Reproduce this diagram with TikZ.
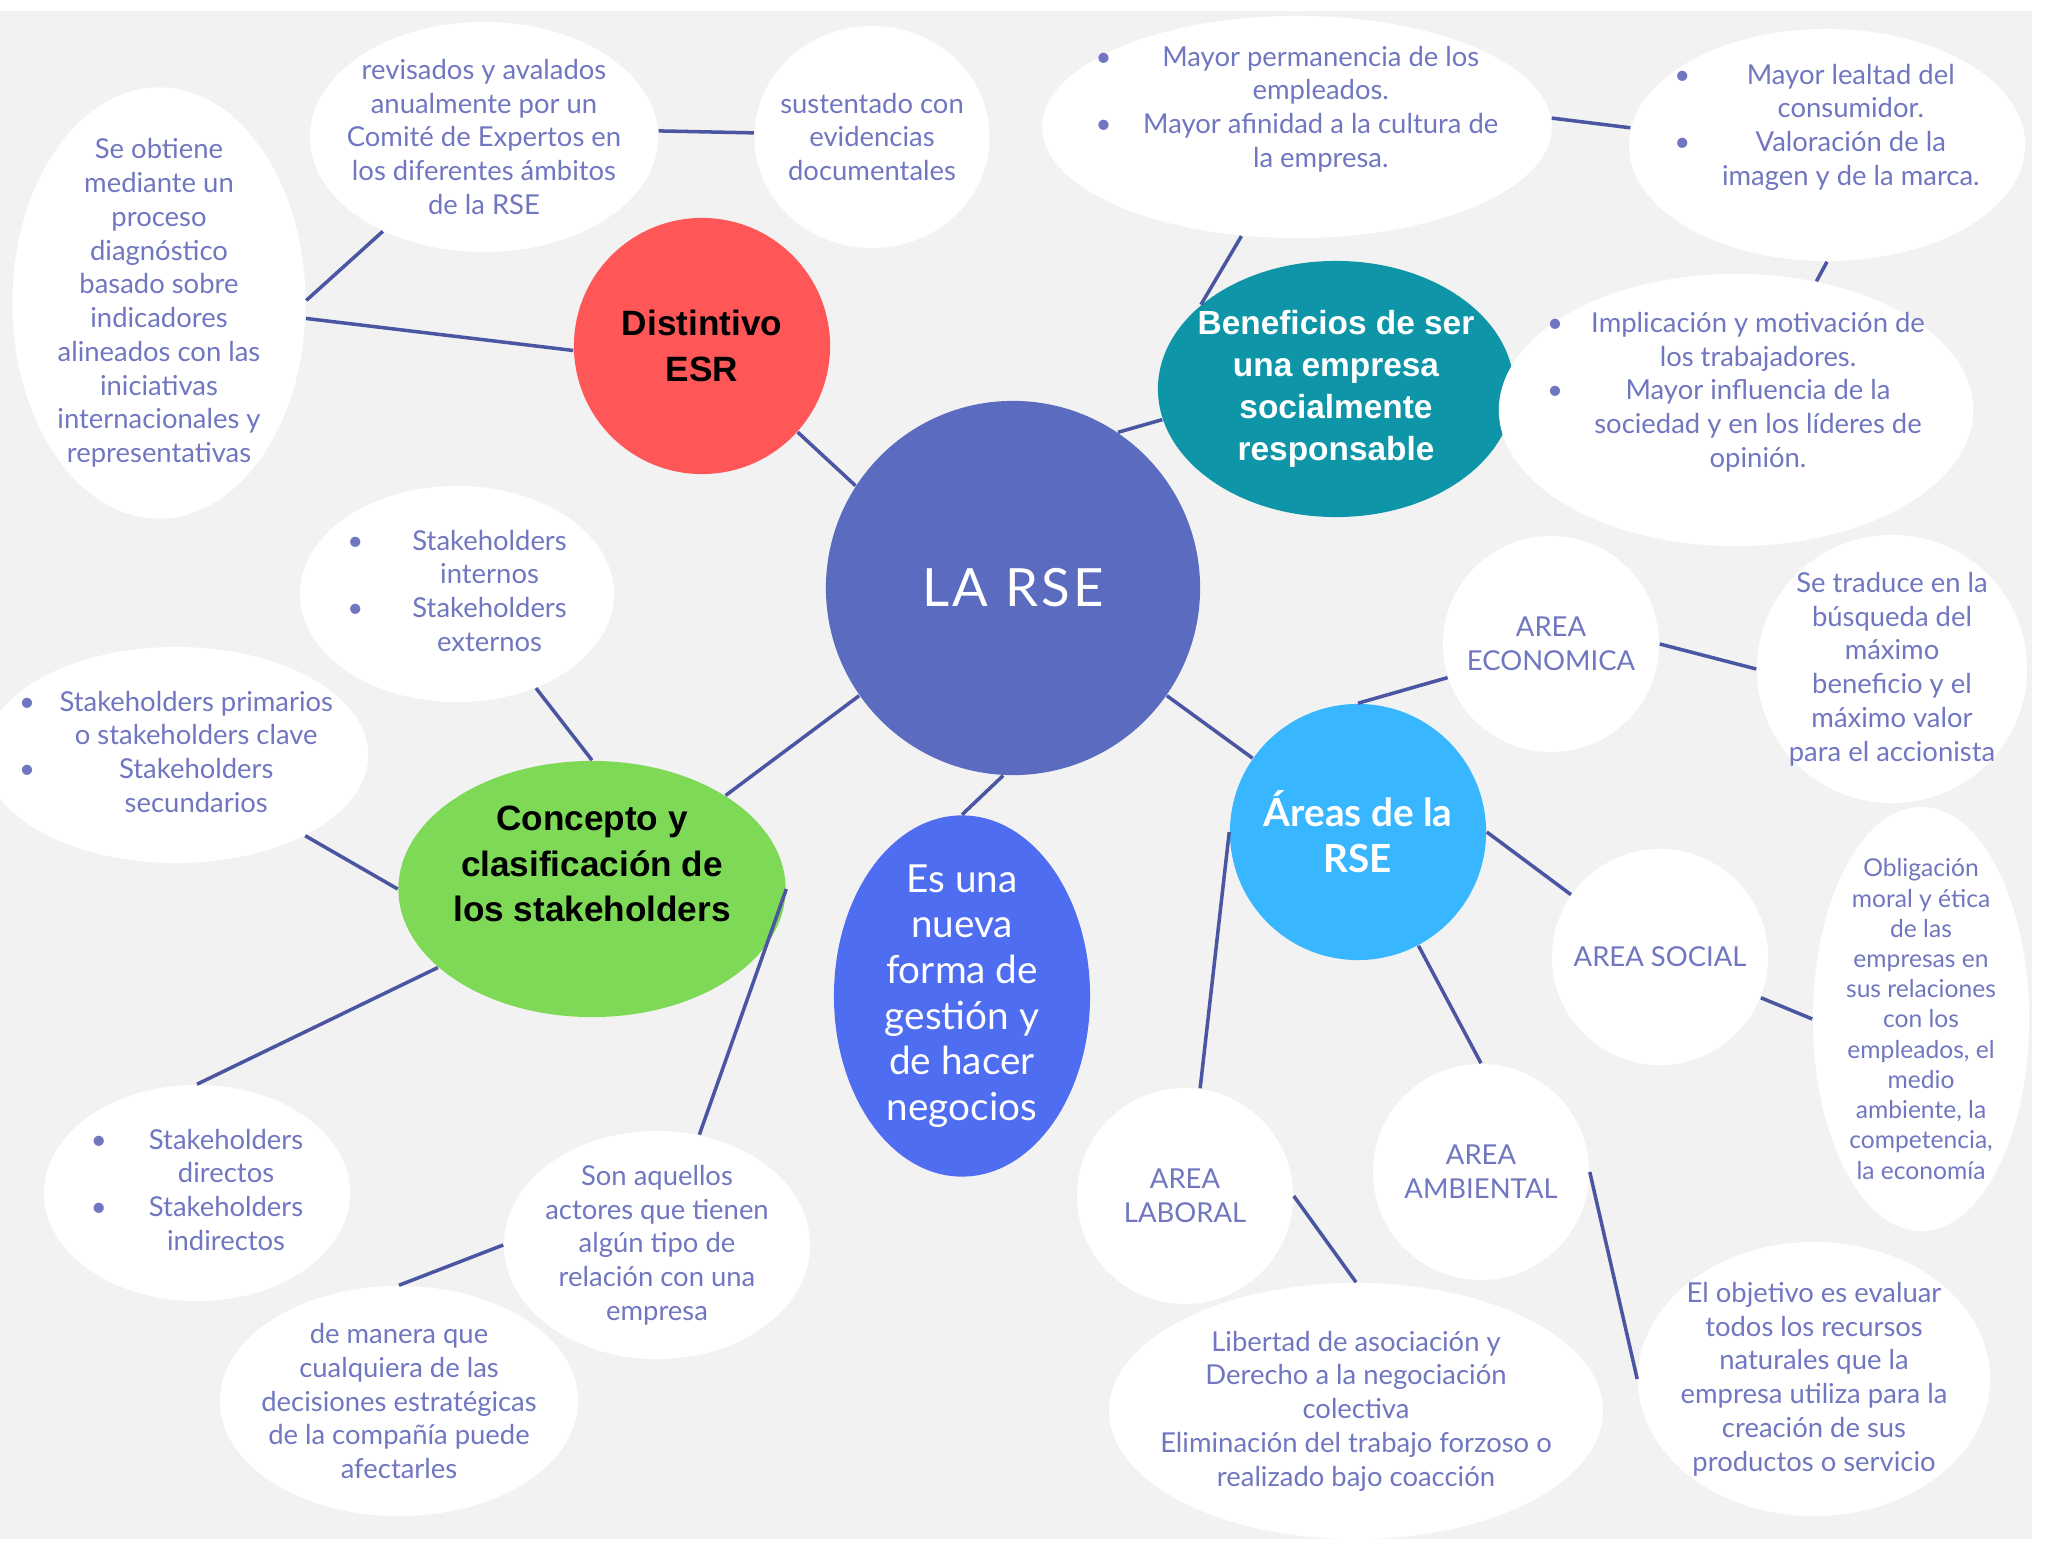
\documentclass[tikz,border=0pt]{standalone}
\usepackage{fontspec}
\usetikzlibrary{shapes.geometric}
\newfontfamily\bodyfont{Lato}
\newfontfamily\headfont{Liberation Sans}
\definecolor{bgcol}{HTML}{F2F2F2}
\definecolor{rsecol}{HTML}{5A6BC0}
\definecolor{esrcol}{HTML}{FF5757}
\definecolor{bencol}{HTML}{0E96A8}
\definecolor{stkcol}{HTML}{7ED957}
\definecolor{newcol}{HTML}{4F6DF0}
\definecolor{areacol}{HTML}{38B6FF}
\definecolor{txtcol}{HTML}{7077C0}
\definecolor{linkcol}{HTML}{4B56A3}
% bullet list: gap, rows
\newcommand{\bl}[2]{\begin{tabular}{@{}l@{\hspace{#1}}c@{}}#2\end{tabular}}

\tikzset{
  bubble/.style={ellipse, fill=white, inner xsep=-6pt, inner ysep=-4pt, align=center,
    text=txtcol, font=\bodyfont\fontsize{7.8}{9.6}\selectfont},
  hub/.style={ellipse, inner xsep=-8pt, inner ysep=-6pt, align=center,
    font=\headfont\bfseries\fontsize{10}{13}\selectfont},
  dims/.style 2 args={minimum width=#1cm, minimum height=#2cm},
  link/.style={draw=linkcol, line width=1pt},
}

\begin{document}
\begin{tikzpicture}[x=0.01cm, y=-0.01cm]
  \useasboundingbox (0,0) rectangle (2049,1567);
  \fill[bgcol] (0,11) rectangle (2032,1539);

  % hubs
  \node[hub, fill=rsecol, text=white, dims={3.74}{3.74},
    font=\bodyfont\fontsize{15}{18}\selectfont\addfontfeature{LetterSpace=6}] (rse) at (1013,588) {LA RSE};
  \node[hub, fill=esrcol, dims={2.56}{2.56}] (esr) at (702,346) {Distintivo\\ESR};
  \node[hub, fill=bencol, text=white, dims={3.56}{2.56},
    font=\headfont\bfseries\fontsize{9.5}{12}\selectfont] (benef) at (1336,389)
    {Beneficios de ser\\una empresa\\socialmente\\responsable};
  \node[hub, fill=stkcol, dims={3.87}{2.56}] (concepto) at (592,889)
    {\begin{tabular}{@{}c@{}}Concepto y\\clasificación de\\los stakeholders\\[12.5pt]\end{tabular}};
  \node[hub, fill=newcol, text=white, dims={2.56}{3.61},
    font=\bodyfont\fontsize{11}{13}\selectfont] (nueva) at (962,996)
    {Es una\\nueva\\forma de\\gestión y\\de hacer\\negocios};
  \node[hub, fill=areacol, text=white, dims={2.56}{2.56},
    font=\bodyfont\bfseries\fontsize{11}{13}\selectfont] (areas) at (1358,832) {Áreas de la\\RSE};

  % distintivo ESR
  \node[bubble, dims={3.48}{2.30}] (revisados) at (484,137)
    {revisados y avalados\\anualmente por un\\Comité de Expertos en\\los diferentes ámbitos\\de la RSE};
  \node[bubble, dims={2.35}{2.22}] (sustentado) at (872,137) {sustentado con\\evidencias\\documentales};
  \node[bubble, dims={2.93}{4.31}] (obtiene) at (159,303)
    {Se obtiene\\mediante un\\proceso\\diagnóstico\\basado sobre\\indicadores\\alineados con las\\iniciativas\\internacionales y\\representativas};

  % beneficios
  \node[bubble, dims={5.02}{2.22}] (permanencia) at (1297,127)
    {\bl{9pt}{• & Mayor permanencia de los\\ & empleados.\\ • & Mayor afinidad a la cultura de\\ & la empresa.\\ & }};
  \node[bubble, dims={3.96}{2.32}] (lealtad) at (1827,145)
    {\bl{9pt}{• & Mayor lealtad del\\ & consumidor.\\ • & Valoración de la\\ & imagen y de la marca.\\ & }};
  \node[bubble, dims={4.60}{2.72}] (implicacion) at (1736,410)
    {\bl{8pt}{• & Implicación y motivación de\\ & los trabajadores.\\ • & Mayor influencia de la\\ & sociedad y en los líderes de\\ & opinión.\\ & }};

  % stakeholders
  \node[bubble, dims={3.14}{2.16}] (internos) at (457,594)
    {\bl{14pt}{• & Stakeholders\\ & internos\\ • & Stakeholders\\ & externos}};
  \node[bubble, dims={3.80}{2.16}] (primarios) at (176,755)
    {\bl{7pt}{• & Stakeholders primarios\\ & o stakeholders clave\\ • & Stakeholders\\ & secundarios}};
  \node[bubble, dims={3.06}{2.16}] (directos) at (197,1193)
    {\bl{12pt}{• & Stakeholders\\ & directos\\ • & Stakeholders\\ & indirectos}};
  \node[bubble, dims={3.06}{2.28}] (aquellos) at (657,1245)
    {Son aquellos\\actores que tienen\\algún tipo de\\relación con una\\empresa};
  \node[bubble, dims={3.58}{2.30}] (manera) at (399,1401)
    {de manera que\\cualquiera de las\\decisiones estratégicas\\de la compañía puede\\afectarles};

  % areas
  \node[bubble, dims={2.16}{2.16}] (economica) at (1551,644) {AREA\\ECONOMICA};
  \node[bubble, dims={2.70}{2.68}] (traduce) at (1892,669)
    {Se traduce en la\\búsqueda del\\máximo\\beneficio y el\\máximo valor\\para el accionista};
  \node[bubble, dims={2.16}{2.16}] (social) at (1660,957) {AREA SOCIAL};
  \node[bubble, dims={2.16}{4.24}, font=\bodyfont\fontsize{7}{8.6}\selectfont] (obligacion) at (1921,1019)
    {Obligación\\moral y ética\\de las\\empresas en\\sus relaciones\\con los\\empleados, el\\medio\\ambiente, la\\competencia,\\la economía};
  \node[bubble, dims={2.16}{2.16}] (laboral) at (1185,1196) {AREA\\LABORAL};
  \node[bubble, dims={2.16}{2.16}] (ambiental) at (1481,1172) {AREA\\AMBIENTAL};
  \node[bubble, dims={4.84}{2.56}] (libertad) at (1356,1411)
    {Libertad de asociación y\\Derecho a la negociación\\colectiva\\Eliminación del trabajo forzoso o\\realizado bajo coacción};
  \node[bubble, dims={3.52}{2.74}] (objetivo) at (1814,1379)
    {El objetivo es evaluar\\todos los recursos\\naturales que la\\empresa utiliza para la\\creación de sus\\productos o servicio};

  % conectores
  \draw[link] (obtiene.1) -- (revisados.223);
  \draw[link] (obtiene.354) -- (esr.182);
  \draw[link] (revisados.2) -- (sustentado.178);
  \draw[link] (esr.318) -- (rse.147);
  \draw[link] (permanencia.243) -- (benef.148);
  \draw[link] (permanencia.2) -- (lealtad.175);
  \draw[link] (lealtad.south) -- (implicacion.58);
  \draw[link] (rse.56) -- (benef.190);
  \draw[link] (internos.310) -- (concepto.north);
  \draw[link] (rse.215) -- (concepto.35);
  \draw[link] (primarios.328) -- (concepto.west);
  \draw[link] (concepto.207) -- (directos.north);
  \draw[link] (concepto.east) -- (aquellos.69);
  \draw[link] (aquellos.west) -- (manera.north);
  \draw[link] (rse.267) -- (nueva.north);
  \draw[link] (rse.325) -- (areas.145);
  \draw[link] (areas.north) -- (economica.198);
  \draw[link] (economica.east) -- (traduce.west);
  \draw[link] (areas.east) -- (social.145);
  \draw[link] (social.338) -- (obligacion.west);
  \draw[link] (areas.298) -- (ambiental.north);
  \draw[link] (areas.west) -- (laboral.82);
  \draw[link] (laboral.east) -- (libertad.north);
  \draw[link] (ambiental.east) -- (objetivo.west);
\end{tikzpicture}
\end{document}
